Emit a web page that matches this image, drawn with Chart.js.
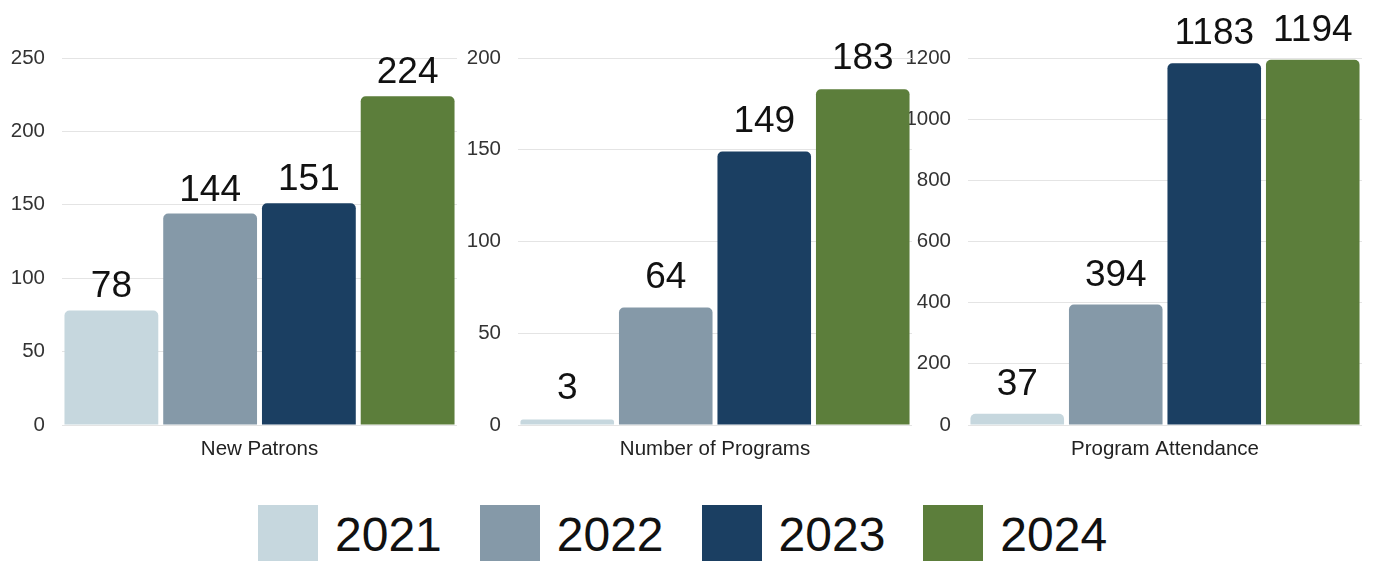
<!DOCTYPE html>
<html>
<head>
<meta charset="utf-8">
<script src="https://cdn.jsdelivr.net/npm/chart.js@4.4.1/dist/chart.umd.min.js"></script>
<style>
  html, body { margin: 0; padding: 0; background: #fff; }
  #wrap { position: relative; width: 1380px; height: 561px; overflow: hidden; background: #fff; font-family: "Liberation Sans", Arial, sans-serif; }
  canvas { position: absolute; top: 0; }
  #legend { position: absolute; left: 258px; top: 505px; display: flex; height: 60px; }
  .item { display: flex; align-items: flex-start; margin-right: 38px; }
  .box { width: 60px; height: 60px; margin-right: 17px; }
  .txt { font-size: 48px; line-height: 60px; color: #111; }
</style>
</head>
<body>
<div id="wrap">
  <canvas id="c1" width="460" height="470" style="left:0px;width:460px;height:470px;z-index:3"></canvas>
  <canvas id="c2" width="460" height="470" style="left:457px;width:460px;height:470px;z-index:2"></canvas>
  <canvas id="c3" width="472" height="470" style="left:900px;width:472px;height:470px;z-index:1"></canvas>
  <div id="legend"></div>
</div>
<script>
// ---- data ----
const years = ["2021", "2022", "2023", "2024"];
const yearColors = ["#c6d7de", "#8599a8", "#1b3f62", "#5c7e3b"];

const newPatronsLabel = ["New Patrons"];
const newPatrons = [78, 144, 151, 224];
const newPatronsTicks = { max: 250, step: 50 };

const programsLabel = ["Number of Programs"];
const programs = [3, 64, 149, 183];
const programsTicks = { max: 200, step: 50 };

const attendanceLabel = ["Program Attendance"];
const attendance = [37, 394, 1183, 1194];
const attendanceTicks = { max: 1200, step: 200 };

// ---- value label plugin ----
const valueLabels = {
  id: 'valueLabels',
  afterDatasetsDraw(chart, args, opts) {
    const ctx = chart.ctx;
    ctx.save();
    ctx.font = '37px "Liberation Sans", Arial, sans-serif';
    ctx.fillStyle = '#111';
    ctx.textAlign = 'center';
    ctx.textBaseline = 'alphabetic';
    chart.data.datasets.forEach((ds, i) => {
      const meta = chart.getDatasetMeta(i);
      meta.data.forEach((bar, j) => {
        ctx.fillText(String(ds.data[j]), bar.x, bar.y - opts.gap);
      });
    });
    ctx.restore();
  }
};

function makeChart(id, label, values, ticks, axisWidth, padRight, gap) {
  const datasets = years.map((y, i) => ({
    label: y,
    data: [values[i]],
    backgroundColor: yearColors[i],
    borderRadius: 5,
    borderSkipped: 'bottom',
    categoryPercentage: 1.0,
    barPercentage: 0.95
  }));
  return new Chart(document.getElementById(id), {
    type: 'bar',
    data: { labels: label, datasets },
    plugins: [valueLabels],
    options: {
      responsive: false,
      animation: false,
      layout: { padding: { top: 58, right: padRight, left: 0, bottom: 0 } },
      plugins: {
        legend: { display: false },
        tooltip: { enabled: false },
        valueLabels: { gap: gap }
      },
      scales: {
        x: {
          grid: { display: false },
          border: { display: false },
          ticks: { color: '#222', font: { size: 20.5, family: '"Liberation Sans", Arial, sans-serif' }, padding: 4 },
          afterFit(scale) { scale.height = 45; }
        },
        y: {
          min: 0,
          max: ticks.max,
          grid: { color: '#e4e4e4', drawTicks: false, lineWidth: 1 },
          border: { display: false },
          ticks: {
            stepSize: ticks.step, color: '#333', padding: 17,
            font: { size: 20.5, family: '"Liberation Sans", Arial, sans-serif' },
            callback: (v) => String(v)
          },
          afterFit(scale) { scale.width = axisWidth; }
        }
      }
    }
  });
}

makeChart('c1', newPatronsLabel, newPatrons, newPatronsTicks, 62, 3, 13);
makeChart('c2', programsLabel, programs, programsTicks, 61, 5, 20);
makeChart('c3', attendanceLabel, attendance, attendanceTicks, 68, 10, 19);

// ---- legend ----
const legend = document.getElementById('legend');
years.forEach((y, i) => {
  const item = document.createElement('div');
  item.className = 'item';
  const box = document.createElement('div');
  box.className = 'box';
  box.style.background = yearColors[i];
  const txt = document.createElement('span');
  txt.className = 'txt';
  txt.textContent = y;
  item.appendChild(box);
  item.appendChild(txt);
  legend.appendChild(item);
});
</script>
</body>
</html>
